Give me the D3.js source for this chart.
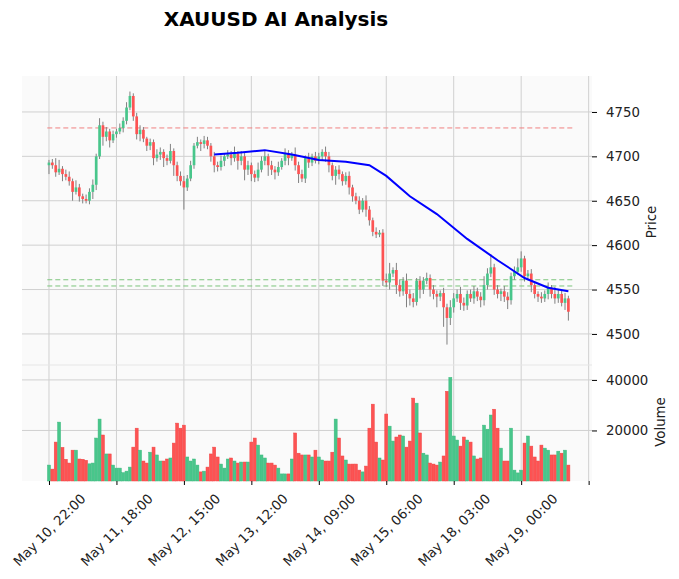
<!DOCTYPE html>
<html><head><meta charset="utf-8">
<script src="https://cdn.jsdelivr.net/npm/d3@7"></script>
<style>body{margin:0;background:#fff}text{font-family:"DejaVu Sans",sans-serif}</style>
</head><body><svg id="c" width="679" height="579"></svg>
<script>
const tickLabels=["May 10, 22:00","May 11, 18:00","May 12, 15:00","May 13, 12:00","May 14, 09:00","May 15, 06:00","May 18, 03:00","May 19, 00:00",""];
const firstOpen=4690;
const closes=[4693,4690,4682,4686,4680,4677,4672,4660,4665,4655,
4652,4650,4660,4668,4700,4735,4722,4728,4718,4725,
4728,4732,4740,4755,4768,4745,4725,4730,4720,4712,
4716,4698,4702,4705,4698,4695,4706,4690,4678,4672,
4665,4675,4690,4712,4716,4714,4718,4712,4700,4690,
4688,4695,4700,4702,4698,4703,4695,4700,4685,4690,
4680,4676,4685,4695,4700,4690,4685,4682,4688,4695,
4703,4698,4702,4690,4680,4675,4698,4693,4700,4695,
4700,4705,4700,4690,4678,4685,4680,4672,4678,4665,
4655,4650,4640,4650,4640,4628,4615,4612,4614,4560,
4558,4568,4572,4555,4548,4560,4545,4540,4536,4560,
4550,4560,4563,4550,4545,4542,4546,4530,4518,4530,
4540,4545,4535,4532,4545,4540,4548,4542,4538,4555,
4568,4575,4550,4545,4548,4542,4538,4565,4570,4575,
4585,4565,4568,4555,4545,4542,4540,4545,4552,4545,
4540,4545,4535,4540,4525];
const upWick=[3,4,8,10,3,5,6,3,8,4, 3,5,4,6,3,8,4,5,3,4, 3,5,4,6,5,3,4,5,3,2, 4,3,6,5,3,4,8,3,4,5, 6,4,5,3,6,3,5,4,3,5, 4,6,3,5,4,8,3,6,4,5, 3,4,8,5,6,3,5,4,6,3, 6,4,3,8,4,5,3,6,3,5, 4,3,6,5,3,4,5,3,4,5, 3,4,5,3,6,4,3,5,3,4, 8,12,3,8,6,4,8,5,6,3, 5,4,6,4,5,4,3,6,4,8, 6,5,8,6,4,5,6,4,5,10, 6,15,4,5,3,6,5,4,6,10, 8,3,4,5,4,3,5,4,6,3, 8,5,4,6,3];
const loWick=[10,4,5,3,8,4,5,10,3,6, 5,3,4,8,6,3,10,5,8,3, 4,3,5,4,3,5,6,8,4,6, 5,8,4,6,10,5,3,12,6,5, 25,4,3,4,3,8,5,4,6,8, 5,4,6,3,8,4,10,5,12,6, 8,5,4,3,5,12,6,8,4,3, 5,8,3,6,10,4,5,6,4,3, 4,5,6,8,5,10,6,5,4,8, 6,4,5,3,8,6,5,4,3,6, 5,8,4,10,6,5,15,8,6,4, 10,5,4,8,6,12,5,22,30,8, 6,4,8,6,5,4,6,5,8,6, 5,4,6,5,8,6,10,5,4,3, 5,6,4,8,5,6,5,4,6,5, 6,5,4,8,10];
const volumes=[6300,4700,15400,23300,13300,8600,7100,12200,12200,8700,
8600,8200,6800,7100,17000,24500,18200,10700,10700,6300,
5100,5100,3300,3900,5500,13400,20900,12200,7900,7100,
11400,13400,10300,7900,7900,8700,9100,15000,22900,20900,
22100,9500,7900,8700,6300,3600,3900,5500,10700,13400,
9500,6700,5100,8700,9100,7900,7100,7500,7500,7500,
15400,17000,14200,10300,9100,7100,7100,6300,5100,2800,
2800,2800,8700,19000,11000,10300,10300,10300,9500,12200,
9500,8300,7900,7900,11400,24500,17000,9900,8300,6700,
6700,6700,4300,3600,5900,20900,30400,15400,9100,8300,
26500,21700,15800,17400,18200,17800,13400,15800,32800,30800,
19000,11000,10300,7100,6700,6300,7500,9900,35500,41000,
17800,16200,13800,17400,16200,15400,9900,8700,9100,22100,
20500,26100,28400,20900,13000,7900,7900,20900,4300,3200,
4300,15000,17800,13800,9500,7900,14200,13000,12200,10300,
10300,11800,11000,12200,6300];
const maIdx=[49,56,64,72,80,88,95,100,107,115,124,133,141,148,154];
const maVal=[4702,4704,4707,4702,4696,4694,4690,4678,4655,4635,4607,4583,4563,4552,4548];
const resistance=[4732];
const supports=[4561,4554];
const priceTicks=[4500,4550,4600,4650,4700,4750];
const volTicks=[20000,40000];

const FS=13.3;
const svg=d3.select("#c");
const L=22,R=592,pT=76,pB=365,vT=365,vB=481;
const n=closes.length;
const opens=closes.map((c,i)=>i?closes[i-1]:firstOpen);
const highs=closes.map((c,i)=>Math.max(c,opens[i])+upWick[i]);
const lows=closes.map((c,i)=>Math.min(c,opens[i])-loWick[i]);
const x=d3.scaleLinear().domain([-8,161]).range([L,R]);
const y=d3.scaleLinear().domain([4465,4790.5]).range([pB,pT]);
const yv=d3.scaleLinear().domain([0,45900]).range([vB,vT]);
const UP="#48c68b",DN="#fd5353";
svg.append("text").attr("x",276).attr("y",26).attr("text-anchor","middle").attr("font-size",20).attr("font-weight","bold").text("XAUUSD AI Analysis");
[[pT,pB],[vT,vB]].forEach(([a,b])=>svg.append("rect").attr("x",L).attr("y",a).attr("width",R-L).attr("height",b-a).attr("fill","#fafafa"));
const xt=d3.range(0,161,20);
const g=svg.append("g");
xt.forEach(t=>{g.append("line").attr("x1",x(t)).attr("x2",x(t)).attr("y1",pT).attr("y2",vB).attr("stroke","#d0d0d0").attr("stroke-width",1);});
priceTicks.forEach(t=>g.append("line").attr("x1",L).attr("x2",R).attr("y1",y(t)).attr("y2",y(t)).attr("stroke","#d0d0d0"));
volTicks.forEach(t=>g.append("line").attr("x1",L).attr("x2",R).attr("y1",yv(t)).attr("y2",yv(t)).attr("stroke","#d0d0d0"));
svg.append("line").attr("x1",L).attr("x2",R).attr("y1",pB).attr("y2",pB).attr("stroke","#e6e6e6");
const hl=(v,c)=>svg.append("line").attr("x1",x(-0.5)).attr("x2",x(155.5)).attr("y1",y(v)).attr("y2",y(v)).attr("stroke",c).attr("stroke-width",1).attr("stroke-dasharray","5,3");
resistance.forEach(v=>hl(v,"#f08080"));
supports.forEach(v=>hl(v,"#7cc47c"));
const cg=svg.append("g");
d3.range(n).forEach(i=>{
  const up=closes[i]>=opens[i];
  cg.append("line").attr("x1",x(i)).attr("x2",x(i)).attr("y1",y(highs[i])).attr("y2",y(lows[i])).attr("stroke","#808080").attr("stroke-width",1);
  const t=y(Math.max(opens[i],closes[i])),b=y(Math.min(opens[i],closes[i]));
  cg.append("rect").attr("x",x(i)-1.35).attr("width",2.7).attr("y",t).attr("height",Math.max(0.8,b-t)).attr("fill",up?UP:DN);
  svg.append("rect").attr("x",x(i)-1.5).attr("width",3).attr("y",yv(volumes[i])).attr("height",yv(0)-yv(volumes[i])).attr("fill",up?UP:DN).attr("stroke",up?"#3cb97e":"#f04545").attr("stroke-width",0.5);
});
svg.append("path").datum(maIdx.map((d,i)=>[d,maVal[i]])).attr("d",d3.line().x(d=>x(d[0])).y(d=>y(d[1]))).attr("fill","none").attr("stroke","#0000ff").attr("stroke-width",2);
const ay=svg.append("g").attr("transform",`translate(${R},0)`).call(d3.axisRight(y).tickValues(priceTicks).tickSize(5).tickPadding(9).tickFormat(d3.format("d")));
const av=svg.append("g").attr("transform",`translate(${R},0)`).call(d3.axisRight(yv).tickValues(volTicks).tickSize(5).tickPadding(9).tickFormat(d3.format("d")));
const ax=svg.append("g").attr("transform",`translate(0,${vB})`).call(d3.axisBottom(x).tickValues(xt).tickSize(4).tickFormat((d,i)=>tickLabels[i]));
[ay,av,ax].forEach(a=>{a.select(".domain").remove();a.selectAll("text").attr("font-size",FS).attr("fill","#222").attr("font-family","DejaVu Sans");a.selectAll("line").attr("stroke","#000");});
ax.selectAll("text").attr("text-anchor","middle").attr("dominant-baseline","central").attr("x",0).attr("y",0).attr("dx",0).attr("dy",0).attr("transform","translate(0,49) rotate(-45)");
svg.append("text").attr("transform","translate(656,222) rotate(-90)").attr("text-anchor","middle").attr("font-size",FS).attr("fill","#222").text("Price");
svg.append("text").attr("transform","translate(665,422) rotate(-90)").attr("text-anchor","middle").attr("font-size",FS).attr("fill","#222").text("Volume");
</script></body></html>
